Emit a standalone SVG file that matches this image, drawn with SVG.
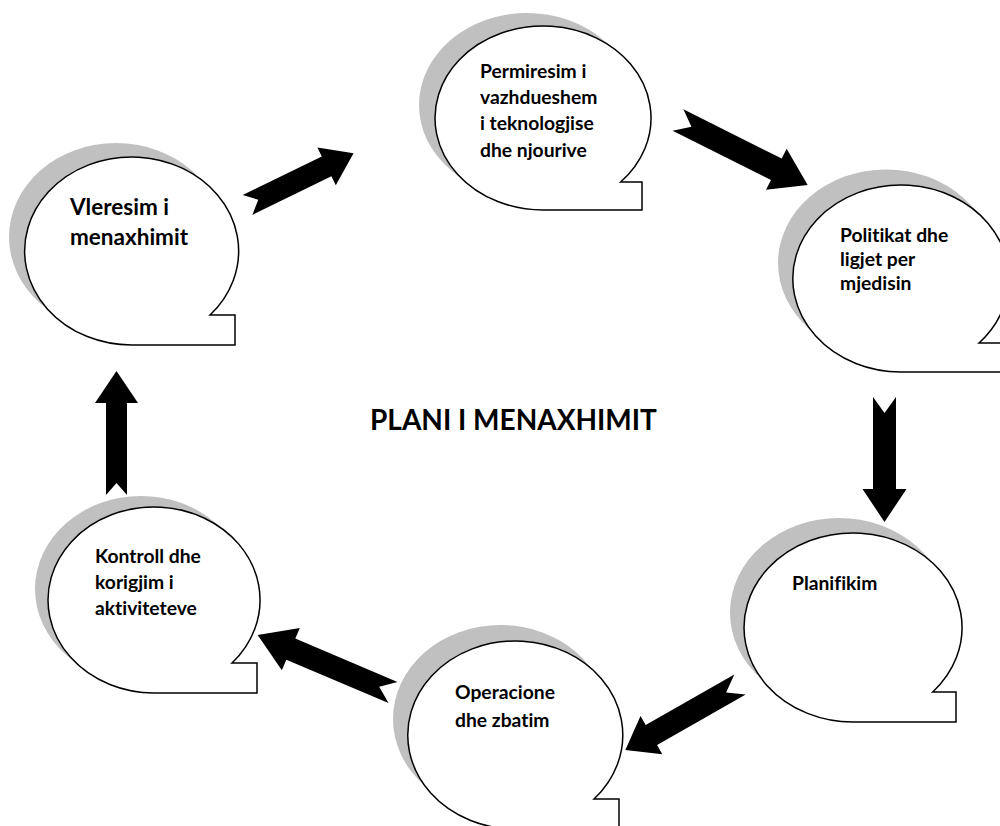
<svg xmlns="http://www.w3.org/2000/svg" width="1000" height="826" viewBox="0 0 1000 826">
<style>
.shadow{fill:#c0c0c0;stroke:none}
.bubble{fill:#fff;stroke:#000;stroke-width:1.5;stroke-linejoin:miter}
.lbl{font-family:Lato,"Liberation Sans",sans-serif;font-weight:bold;font-size:19.3px;fill:#000;font-variant-ligatures:none}
.big{font-size:22.5px}
.title{font-family:Lato,"Liberation Sans",sans-serif;font-weight:bold;font-size:28px;fill:#000;font-variant-ligatures:none}
.arrow{fill:#000;stroke:none}
</style>
<rect width="1000" height="826" fill="#fff"/>
<g id="node-permiresim">
<ellipse class="shadow" cx="527" cy="105" rx="108" ry="92"/>
<path class="bubble" d="M620.6,182 L642,182 L642,210 L543,210 A108,92 0 1 1 620.6,182 Z"/>
<text class="lbl" x="480" y="78">Permiresim i</text>
<text class="lbl" x="480" y="104">vazhdueshem</text>
<text class="lbl" x="480" y="130">i teknologjise</text>
<text class="lbl" x="480" y="157">dhe njourive</text>
</g>
<g id="node-politikat">
<ellipse class="shadow" cx="886" cy="263" rx="108" ry="93.5"/>
<path class="bubble" d="M979,343 L1022,343 L1022,372 L901,372 A108,93.5 0 1 1 979,343 Z"/>
<text class="lbl" x="840" y="242">Politikat dhe</text>
<text class="lbl" x="840" y="266">ligjet per</text>
<text class="lbl" x="840" y="290">mjedisin</text>
</g>
<g id="node-planifikim">
<ellipse class="shadow" cx="839" cy="612.5" rx="109" ry="94.5"/>
<path class="bubble" d="M932.7,692 L956,692 L956,722 L853,722 A109,94.5 0 1 1 932.7,692 Z"/>
<text class="lbl" x="792" y="590">Planifikim</text>
</g>
<g id="node-operacione">
<ellipse class="shadow" cx="500.5" cy="719" rx="107.5" ry="94"/>
<path class="bubble" d="M594,799 L619,799 L619,829 L515.5,829 A107.5,94 0 1 1 594,799 Z"/>
<text class="lbl" x="455" y="699">Operacione</text>
<text class="lbl" x="455" y="727">dhe zbatim</text>
</g>
<g id="node-kontroll">
<ellipse class="shadow" cx="141" cy="589" rx="106" ry="93"/>
<path class="bubble" d="M232,663 L257,663 L257,693 L154,693 A106,93 0 1 1 232,663 Z"/>
<text class="lbl" x="95" y="563">Kontroll dhe</text>
<text class="lbl" x="95" y="589">korigjim i</text>
<text class="lbl" x="95" y="615">aktiviteteve</text>
</g>
<g id="node-vleresim">
<ellipse class="shadow" cx="116" cy="237" rx="107" ry="94"/>
<path class="bubble" d="M210,315 L235,315 L235,345 L132,345 A107,94 0 1 1 210,315 Z"/>
<text class="lbl big" x="70" y="215">Vleresim i</text>
<text class="lbl big" x="70" y="245">menaxhimit</text>
</g>
<g id="title">
<text class="title" x="370" y="430">PLANI I MENAXHIMIT</text>
</g>
<g id="connectors">
<polygon class="arrow" transform="translate(247.5,205) rotate(-26)" points="0,-11 88,-11 88,-21 118,0 88,21 88,11 0,11 12,0"/>
<polygon class="arrow" transform="translate(678,120) rotate(26.6)" points="0,-12 110,-12 110,-23 145,0 110,23 110,12 0,12 15,0"/>
<polygon class="arrow" transform="translate(884.5,397) rotate(90)" points="0,-11.5 92,-11.5 92,-22 125,0 92,22 92,11.5 0,11.5 16,0"/>
<polygon class="arrow" transform="translate(740,684.5) rotate(150.3)" points="0,-11.5 102,-11.5 102,-22 132,0 102,22 102,11.5 0,11.5 16,0"/>
<polygon class="arrow" transform="translate(393,692.5) rotate(203)" points="0,-11.5 111,-11.5 111,-23 147,0 111,23 111,11.5 0,11.5 15,0"/>
<polygon class="arrow" transform="translate(116.5,495) rotate(-90)" points="0,-10.5 92,-10.5 92,-21.5 124,0 92,21.5 92,10.5 0,10.5 12,0"/>
</g>
</svg>
